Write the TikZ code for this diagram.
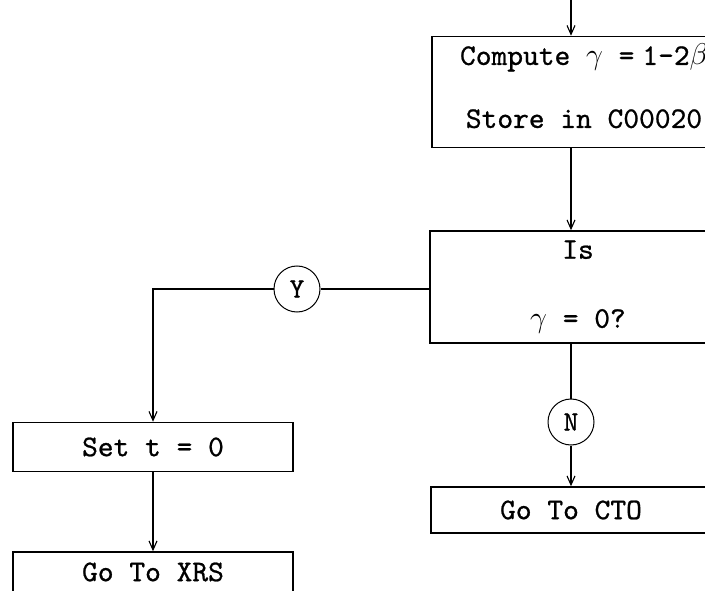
\RequirePackage{fix-cm}
\documentclass[tikz,border=0pt]{standalone}
\usepackage{fontspec}
\setmonofont{lmmono10-regular.otf}[FakeBold=0.8]
\usepackage{tikz}
\usetikzlibrary{arrows.meta}
\tikzset{
  fcbox/.style={rectangle, draw, line width=1.5pt, minimum width=280pt,
                inner sep=0pt, align=center,
                font=\fontsize{30}{36}\selectfont\ttfamily},
  fcjoin/.style={circle, draw, line width=1pt, minimum size=46pt,
                 inner sep=0pt, font=\fontsize{28}{32}\selectfont\ttfamily},
  fclink/.style={draw, line width=1.1pt},
  fcflow/.style={fclink, -{Straight Barb[length=9pt,width=8pt]}}
}

\begin{document}
\begin{tikzpicture}[
    x=1pt, y=-1pt
]
  \useasboundingbox (0,0) rectangle (705,591);
  \node[fcbox, minimum width=304pt, minimum height=111pt, text depth=12pt]
    (compute) at (584,92)
    {Compute~$\gamma$~=\hspace{8pt}1-2$\beta$\\[27pt]Store in C00020};
  \node[fcbox, minimum width=296pt, minimum height=112pt] (test) at (578,287)
    {Is\\[33pt]$\gamma$ = 0?};
  \node[fcjoin] (yes) at (297,289) {Y};
  \node[fcjoin] (no) at (571,422) {N};
  \node[fcbox, minimum height=49pt] (setz) at (153,447) {Set t = 0};
  \node[fcbox, minimum height=40pt] (xrs) at (153,572) {Go To XRS};
  \node[fcbox, minimum height=46pt] (cto) at (571,510) {Go To CTO};
  \coordinate (entry) at (571,0);
  \draw[fcflow] (entry) -- (entry |- compute.north);
  \draw[fcflow] (entry |- compute.south) -- (entry |- test.north);
  \draw[fclink] (test.west |- yes) -- (yes);
  \draw[fcflow] (yes) -| (setz);
  \draw[fcflow] (setz) -- (xrs);
  \draw[fclink] (test.south -| no) -- (no);
  \draw[fcflow] (no) -- (cto);
\end{tikzpicture}
\end{document}
